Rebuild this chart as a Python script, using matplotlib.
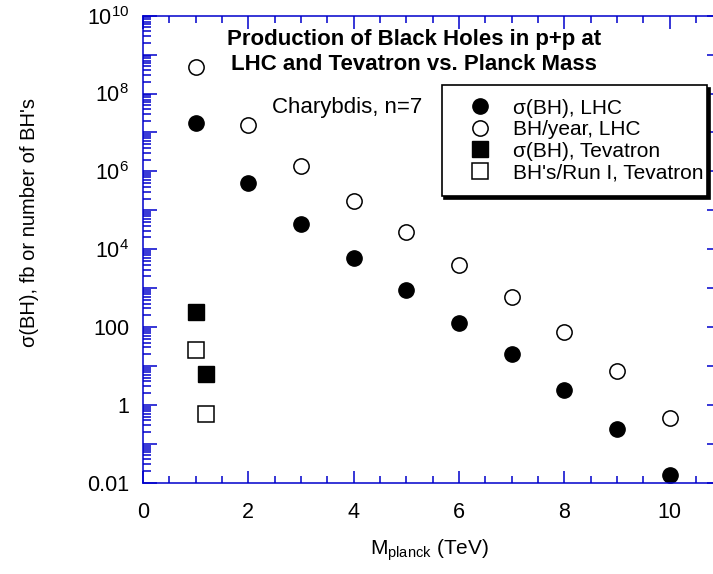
import numpy as np
import matplotlib
matplotlib.use("Agg")
import matplotlib.pyplot as plt
from matplotlib.ticker import FixedLocator, LogLocator, MultipleLocator, FuncFormatter, NullFormatter

plt.rcParams['font.family'] = ['Liberation Sans', 'DejaVu Sans']
plt.rcParams['mathtext.fontset'] = 'custom'
plt.rcParams['mathtext.rm'] = 'Liberation Sans'
plt.rcParams['mathtext.it'] = 'Liberation Sans:italic'
plt.rcParams['mathtext.bf'] = 'Liberation Sans:bold'

# data
m_planck_lhc = [1, 2, 3, 4, 5, 6, 7, 8, 9, 10]
sigma_lhc = [1.7e7, 5.0e5, 4.5e4, 6.0e3, 900, 130, 20, 2.4, 0.24, 0.016]
bh_year_lhc = [4.9e8, 1.6e7, 1.4e6, 1.7e5, 2.8e4, 3.9e3, 590, 74, 7.4, 0.45]

m_planck_tev = [1.0, 1.2]
sigma_tev = [250, 6.1]
bh_run1_tev = [25, 0.58]

blue = '#0000cc'

fig = plt.figure(figsize=(7.13, 5.74), dpi=100)
ax = fig.add_axes([143/713, 1 - 482.7/574, 578/713, 467/574])

ax.plot(m_planck_lhc, sigma_lhc, 'o', ms=11, mfc='black', mec='black',
        label='σ(BH), LHC', clip_on=False)
ax.plot(m_planck_lhc, bh_year_lhc, 'o', ms=11, mfc='white', mec='black', mew=1.1,
        label='BH/year, LHC', clip_on=False)
ax.plot(m_planck_tev, sigma_tev, 's', ms=12, mfc='black', mec='black',
        label='σ(BH), Tevatron', clip_on=False)
ax.plot(m_planck_tev, bh_run1_tev, 's', ms=12, mfc='white', mec='black', mew=1.1,
        label="BH's/Run I, Tevatron", clip_on=False)

ax.set_yscale('log')
ax.set_xlim(0, 578/52.65)
ax.set_ylim(0.01, 1e10)

# axis styling
for s in ['left', 'bottom', 'top']:
    ax.spines[s].set_color(blue)
    ax.spines[s].set_linewidth(1.1)
ax.spines['right'].set_visible(False)

ax.xaxis.set_major_locator(MultipleLocator(2))
ax.xaxis.set_minor_locator(MultipleLocator(0.5))
ax.yaxis.set_major_locator(FixedLocator([10.0**k for k in range(-2, 11)]))
ax.yaxis.set_minor_locator(LogLocator(base=10, subs=np.arange(2, 10), numticks=30))
ax.yaxis.set_minor_formatter(NullFormatter())


def ylab(v, pos):
    k = int(round(np.log10(v)))
    if k % 2:
        return ''
    if k == -2:
        return '0.01'
    if k == 0:
        return '1'
    if k == 2:
        return '100'
    return r'$\mathregular{10^{%d}}$' % k


ax.yaxis.set_major_formatter(FuncFormatter(ylab))

ax.tick_params(which='both', direction='in', color=blue, width=1.1, labelsize=15.5,
               labelcolor='black')
ax.tick_params(axis='x', which='major', length=9, top=True, pad=14)
ax.tick_params(axis='x', which='minor', length=5, top=True)
ax.tick_params(axis='y', which='major', length=10, right=True, pad=10)
ax.tick_params(axis='y', which='minor', length=6, right=False)

# axis titles placed by hand
fig.text(430/713, 1 - 555/574, r'M$_{\mathregular{planck}}$ (TeV)', fontsize=15,
         ha='center', va='baseline')
fig.text(30/713, 1 - 222.5/574, "σ(BH), fb or number of BH's", fontsize=14.5,
         rotation=90, ha='center', va='center')

ax.text(0.469, 0.9373, 'Production of Black Holes in p+p at', transform=ax.transAxes,
        ha='center', va='baseline', fontsize=16, fontweight='bold')
ax.text(0.469, 0.8837, 'LHC and Tevatron vs. Planck Mass', transform=ax.transAxes,
        ha='center', va='baseline', fontsize=16, fontweight='bold')
ax.text(0.2227, 0.7917, 'Charybdis, n=7', transform=ax.transAxes, ha='left',
        va='baseline', fontsize=16)

leg = ax.legend(loc='upper left', bbox_to_anchor=(0.5168, 0.6231, 0.4585, 0.2285),
                mode='expand', borderaxespad=0, fontsize=15, frameon=True, fancybox=False,
                shadow={'color': 'black', 'alpha': 1}, labelspacing=0.12,
                handlelength=2.35, handletextpad=0.4, borderpad=0.66)
leg.get_frame().set_edgecolor('black')
leg.get_frame().set_linewidth(1.2)

fig.savefig('out.png', dpi=100)
